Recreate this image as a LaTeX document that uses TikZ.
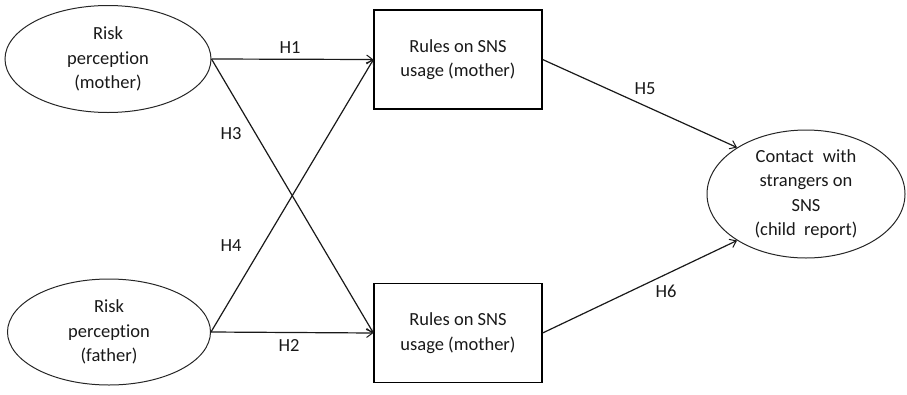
\documentclass[tikz,border=0pt]{standalone}
\usepackage{fontspec}
\setmainfont{Carlito}[Ligatures=CommonOff]
\usetikzlibrary{shapes.geometric,arrows.meta}
\begin{document}
\begin{tikzpicture}[x=1pt,y=-1pt,
  txt/.style={font=\fontsize{18.5}{24.5}\selectfont, align=center, text=black!90},
  latent/.style={txt, draw=black!85, line width=1pt, ellipse, inner sep=0pt},
  observed/.style={txt, draw=black, line width=1.2pt, rectangle, inner sep=0pt,
    minimum width=168pt, minimum height=99pt},
  path/.style={draw=black!90, line width=1.2pt, -{Straight Barb[length=6pt,width=9pt,line width=1pt]}},
  hyp/.style={txt, inner sep=0pt}]
\useasboundingbox (0,0) rectangle (907,394);

% latent predictors
\node[latent, minimum width=206pt, minimum height=107pt] (rm) at (108,59)
  {Risk\\perception\\(mother)};
\node[latent, minimum width=203pt, minimum height=106pt] (rf) at (109,332)
  {Risk\\perception\\(father)};

% mediators
\node[observed] (sm) at (458,59.5) {Rules on SNS\\usage (mother)};
\node[observed] (sf) at (458,333) {Rules on SNS\\usage (mother)};

% outcome
\node[latent, minimum width=198pt, minimum height=128pt] (ce) at (806,194)
  {Contact\hspace{0.5em}with\\strangers on\\SNS\\(child\hspace{0.45em}report)};

% hypothesised paths
\draw[path] (rm.east) -- (sm.west);
\draw[path] (rm.east) -- (sf.west);
\draw[path] (rf.east) -- (sm.west);
\draw[path] (rf.east) -- (sf.west);
\draw[path] (sm.east) -- (ce.146);
\draw[path] (sf.east) -- (ce.214);

% path labels
\node[hyp] (h1) at (290,48) {H1};
\node[hyp] (h3) at (231,134) {H3};
\node[hyp] (h4) at (231,246) {H4};
\node[hyp] (h2) at (289,345) {H2};
\node[hyp] (h5) at (645,89) {H5};
\node[hyp] (h6) at (666,291) {H6};
\end{tikzpicture}
\end{document}
